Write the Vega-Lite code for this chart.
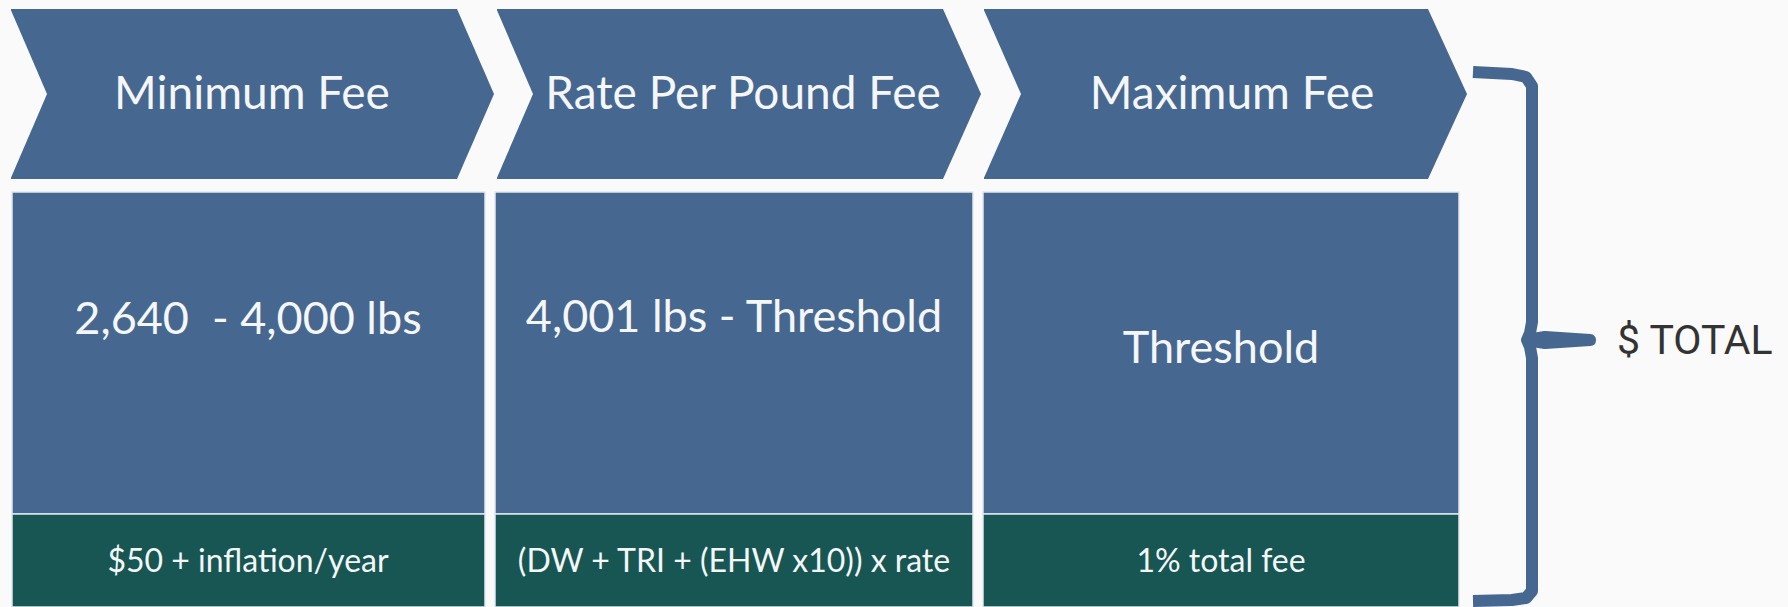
{
  "$schema": "https://vega.github.io/schema/vega-lite/v6.json",
  "width": 1788,
  "height": 607,
  "autosize": {"type": "none"},
  "padding": 0,
  "background": "#fafafa",
  "config": {"view": {"stroke": null}},
  "datasets": {
    "chevrons": [
      {"stage": "Minimum Fee", "x": 11, "y": 9, "y2": 179},
      {"stage": "Minimum Fee", "x": 457, "y": 9, "y2": 179},
      {"stage": "Minimum Fee", "x": 494, "y": 94, "y2": 94},
      {"stage": "Rate Per Pound Fee", "x": 497, "y": 9, "y2": 179},
      {"stage": "Rate Per Pound Fee", "x": 943, "y": 9, "y2": 179},
      {"stage": "Rate Per Pound Fee", "x": 981, "y": 94, "y2": 94},
      {"stage": "Maximum Fee", "x": 984, "y": 9, "y2": 179},
      {"stage": "Maximum Fee", "x": 1428, "y": 9, "y2": 179},
      {"stage": "Maximum Fee", "x": 1467, "y": 94, "y2": 94}
    ],
    "notches": [
      {"stage": "Minimum Fee", "x": 10, "y": 8, "y2": 180},
      {"stage": "Minimum Fee", "x": 47, "y": 94, "y2": 94},
      {"stage": "Rate Per Pound Fee", "x": 496, "y": 8, "y2": 180},
      {"stage": "Rate Per Pound Fee", "x": 533, "y": 94, "y2": 94},
      {"stage": "Maximum Fee", "x": 983, "y": 8, "y2": 180},
      {"stage": "Maximum Fee", "x": 1021, "y": 94, "y2": 94}
    ],
    "boxes": [
      {"part": "range", "x": 12, "x2": 485, "y": 192, "y2": 514},
      {"part": "range", "x": 495, "x2": 973, "y": 192, "y2": 514},
      {"part": "range", "x": 983, "x2": 1459, "y": 192, "y2": 514},
      {"part": "formula", "x": 12, "x2": 485, "y": 514, "y2": 607},
      {"part": "formula", "x": 495, "x2": 973, "y": 514, "y2": 607},
      {"part": "formula", "x": 983, "x2": 1459, "y": 514, "y2": 607}
    ],
    "titles": [
      {"text": "Minimum Fee", "x": 252, "y": 95},
      {"text": "Rate Per Pound Fee", "x": 743, "y": 95},
      {"text": "Maximum Fee", "x": 1232, "y": 95}
    ],
    "ranges": [
      {"text": "2,640\u00a0 - 4,000 lbs", "x": 248, "y": 320},
      {"text": "4,001 lbs - Threshold", "x": 734, "y": 318},
      {"text": "Threshold", "x": 1221, "y": 349}
    ],
    "formulas": [
      {"text": "$50 + inflation/year", "x": 248, "y": 562},
      {"text": "(DW + TRI + (EHW x10)) x rate", "x": 734, "y": 562},
      {"text": "1% total fee", "x": 1221, "y": 562}
    ],
    "brace": [
      {"i": 1, "x": 1473, "y": 72},
      {"i": 2, "x": 1512, "y": 74},
      {"i": 3, "x": 1526, "y": 77},
      {"i": 4, "x": 1532, "y": 86},
      {"i": 5, "x": 1532, "y": 322},
      {"i": 6, "x": 1530, "y": 333},
      {"i": 7, "x": 1527, "y": 340},
      {"i": 8, "x": 1545, "y": 337},
      {"i": 9, "x": 1590, "y": 340},
      {"i": 10, "x": 1545, "y": 343},
      {"i": 11, "x": 1527, "y": 340},
      {"i": 12, "x": 1530, "y": 347},
      {"i": 13, "x": 1532, "y": 358},
      {"i": 14, "x": 1532, "y": 591},
      {"i": 15, "x": 1526, "y": 598},
      {"i": 16, "x": 1512, "y": 600},
      {"i": 17, "x": 1473, "y": 601}
    ],
    "total": [
      {"text": "$ TOTAL", "x": 1617, "y": 342}
    ]
  },
  "layer": [
    {
      "data": {"name": "chevrons"},
      "mark": {"type": "area", "orient": "vertical", "color": "#46678f", "interpolate": "linear"},
      "encoding": {
        "x": {"field": "x", "type": "quantitative", "scale": {"domain": [0, 1788], "nice": false, "zero": false}, "axis": null},
        "y": {"field": "y", "type": "quantitative", "stack": null, "scale": {"domain": [0, 607], "nice": false, "zero": false, "reverse": true}, "axis": null},
        "y2": {"field": "y2"},
        "detail": {"field": "stage"}
      }
    },
    {
      "data": {"name": "notches"},
      "mark": {"type": "area", "orient": "vertical", "color": "#fafafa", "interpolate": "linear"},
      "encoding": {
        "x": {"field": "x", "type": "quantitative"},
        "y": {"field": "y", "type": "quantitative", "stack": null},
        "y2": {"field": "y2"},
        "detail": {"field": "stage"}
      }
    },
    {
      "data": {"name": "boxes"},
      "mark": {"type": "rect", "stroke": "#dfe8ef", "strokeWidth": 1.5},
      "encoding": {
        "x": {"field": "x", "type": "quantitative"},
        "x2": {"field": "x2"},
        "y": {"field": "y", "type": "quantitative"},
        "y2": {"field": "y2"},
        "fill": {"field": "part", "type": "nominal", "scale": {"domain": ["range", "formula"], "range": ["#46678f", "#175652"]}, "legend": null}
      }
    },
    {
      "data": {"name": "titles"},
      "mark": {"type": "text", "font": "Lato", "fontSize": 46, "color": "#f4f6f8", "align": "center", "baseline": "middle"},
      "encoding": {
        "x": {"field": "x", "type": "quantitative"},
        "y": {"field": "y", "type": "quantitative"},
        "text": {"field": "text"}
      }
    },
    {
      "data": {"name": "ranges"},
      "mark": {"type": "text", "font": "Lato", "fontSize": 45, "color": "#f4f6f8", "align": "center", "baseline": "middle"},
      "encoding": {
        "x": {"field": "x", "type": "quantitative"},
        "y": {"field": "y", "type": "quantitative"},
        "text": {"field": "text"}
      }
    },
    {
      "data": {"name": "formulas"},
      "mark": {"type": "text", "font": "Lato", "fontSize": 32, "color": "#f4f6f8", "align": "center", "baseline": "middle"},
      "encoding": {
        "x": {"field": "x", "type": "quantitative"},
        "y": {"field": "y", "type": "quantitative"},
        "text": {"field": "text"}
      }
    },
    {
      "data": {"name": "brace"},
      "mark": {"type": "line", "color": "#46678f", "strokeWidth": 12, "strokeJoin": "round", "strokeCap": "butt"},
      "encoding": {
        "x": {"field": "x", "type": "quantitative"},
        "y": {"field": "y", "type": "quantitative"},
        "order": {"field": "i", "type": "quantitative"}
      }
    },
    {
      "data": {"name": "total"},
      "mark": {"type": "text", "font": "Roboto", "fontSize": 41, "color": "#333333", "align": "left", "baseline": "middle"},
      "encoding": {
        "x": {"field": "x", "type": "quantitative"},
        "y": {"field": "y", "type": "quantitative"},
        "text": {"field": "text"}
      }
    }
  ]
}
